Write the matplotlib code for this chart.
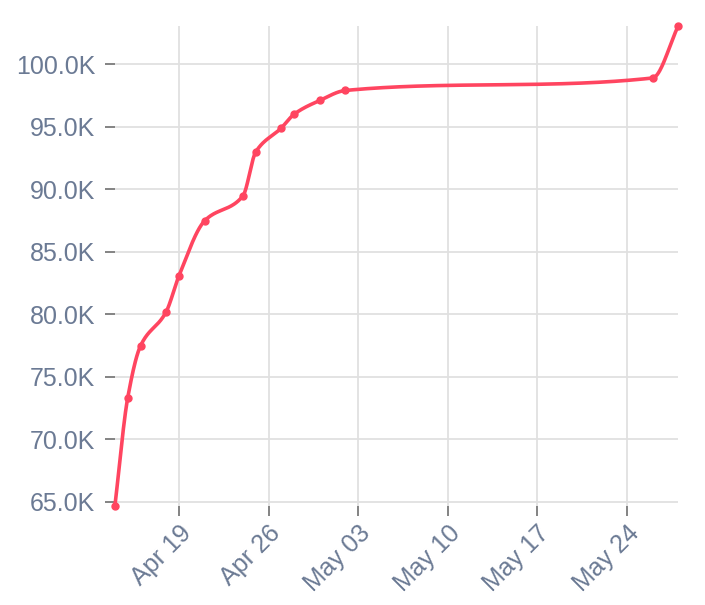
import numpy as np
import pandas as pd
import matplotlib
matplotlib.use("Agg")
import matplotlib.pyplot as plt
import matplotlib.dates as mdates
from matplotlib.ticker import FuncFormatter

plt.rcParams['font.family'] = ['Liberation Sans', 'DejaVu Sans']

dates = ["2020-04-14", "2020-04-15", "2020-04-16", "2020-04-18", "2020-04-19",
         "2020-04-21", "2020-04-24", "2020-04-25", "2020-04-27", "2020-04-28",
         "2020-04-30", "2020-05-02", "2020-05-26", "2020-05-28"]
values = [64660, 73300, 77460, 80180, 83060, 87460, 89460, 92980, 94900,
          96000, 97100, 97900, 98900, 103060]

tick_dates = ["2020-04-19", "2020-04-26", "2020-05-03", "2020-05-10",
              "2020-05-17", "2020-05-24"]
y_ticks = [65000, 70000, 75000, 80000, 85000, 90000, 95000, 100000]

line_color = "#ff4560"
label_color = "#6b7a94"


def pchip(x, y, xs):
    # monotone cubic for the smooth line
    x = np.asarray(x, float)
    y = np.asarray(y, float)
    h = np.diff(x)
    d = np.diff(y) / h
    n = len(x)
    m = np.zeros(n)
    for k in range(1, n - 1):
        if d[k - 1] * d[k] > 0:
            w1 = 2 * h[k] + h[k - 1]
            w2 = h[k] + 2 * h[k - 1]
            m[k] = (w1 + w2) / (w1 / d[k - 1] + w2 / d[k])
    m[0] = d[0]
    m[-1] = d[-1]
    idx = np.clip(np.searchsorted(x, xs) - 1, 0, n - 2)
    t = (xs - x[idx]) / h[idx]
    h00 = 2 * t**3 - 3 * t**2 + 1
    h10 = t**3 - 2 * t**2 + t
    h01 = -2 * t**3 + 3 * t**2
    h11 = t**3 - t**2
    return h00 * y[idx] + h10 * h[idx] * m[idx] + h01 * y[idx + 1] + h11 * h[idx] * m[idx + 1]


xd = mdates.date2num(pd.to_datetime(dates))
xs = np.linspace(xd[0], xd[-1], 800)
ys = pchip(xd, values, xs)

fig = plt.figure(figsize=(7.05, 6.05), dpi=100)
ax = fig.add_axes([0.163, 0.164, 0.799, 0.793])

ax.plot(xs, ys, color=line_color, lw=2.6, solid_capstyle="round", zorder=3, clip_on=False)
ax.plot(xd, values, "o", color=line_color, ms=5, zorder=4, clip_on=False)

ax.set_xlim(xd[0], xd[-1])
ax.set_ylim(64660, 103060)

ax.set_xticks(mdates.date2num(pd.to_datetime(tick_dates)))
ax.xaxis.set_major_formatter(mdates.DateFormatter("%b %d"))
ax.set_yticks(y_ticks)
ax.yaxis.set_major_formatter(FuncFormatter(lambda v, p: "%.1fK" % (v / 1000)))

for s in ax.spines.values():
    s.set_visible(False)
ax.grid(True, color="#e0e0e0", lw=1.3, zorder=0)
ax.tick_params(axis="x", length=7, width=1.3, color="#7a7a7a", labelcolor=label_color,
               labelsize=18, pad=4)
ax.tick_params(axis="y", length=7, width=1.3, color="#7a7a7a", labelcolor=label_color,
               labelsize=18, pad=7)
for lab in ax.get_xticklabels():
    lab.set_rotation(45)
    lab.set_ha("right")
    lab.set_rotation_mode("anchor")

fig.savefig("out.png", dpi=100)
